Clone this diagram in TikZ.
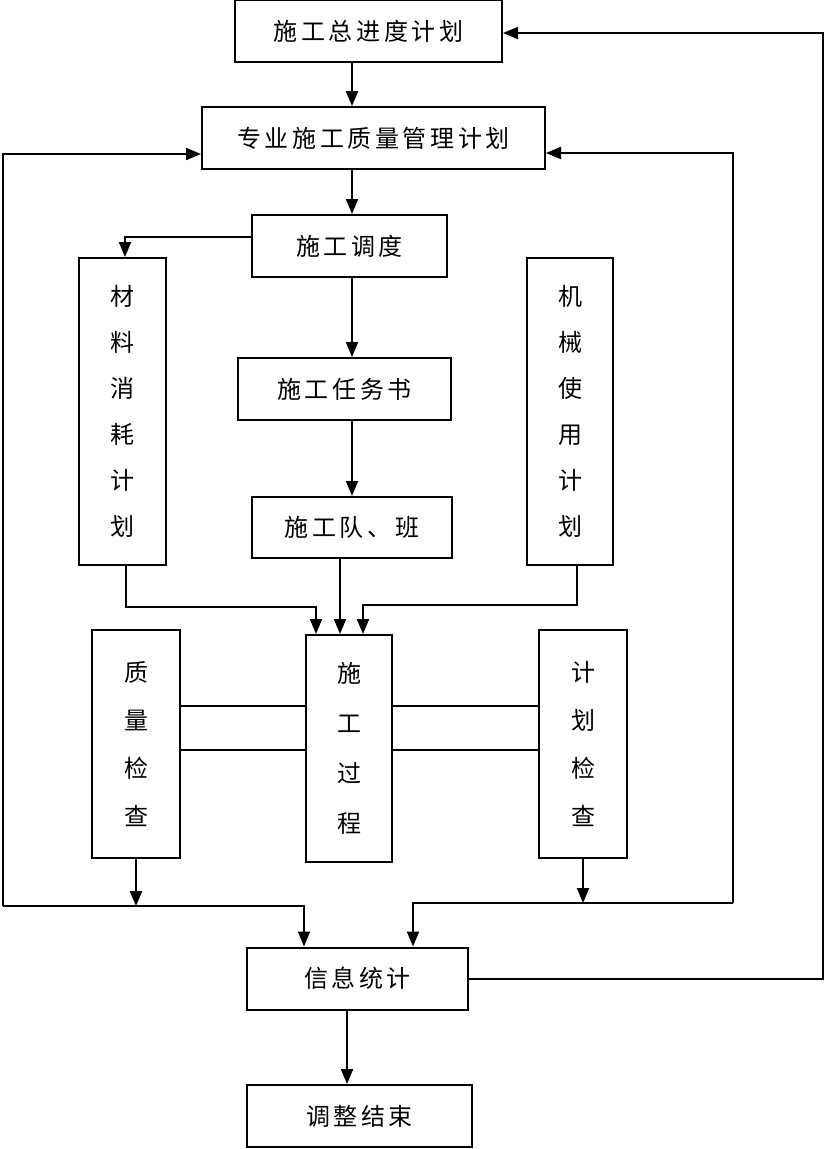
\documentclass[tikz,border=0pt]{standalone}
\usepackage{fontspec}
\newfontfamily\cjk[LetterSpace=15]{Noto Sans CJK SC}
\usetikzlibrary{arrows.meta, positioning}

\begin{document}
\begin{tikzpicture}[x=1pt, y=-1pt,
  box/.style={draw, line width=2pt, inner sep=0pt, font=\cjk\fontsize{24}{28}\selectfont},
  tallbox/.style={box, align=center},
  arr/.style={-{Triangle[length=15pt,width=12pt]}, line width=2pt}]
\useasboundingbox (0,0) rectangle (825,1149);
% boxes
\node[box, minimum width=267pt, minimum height=62pt] (plan) at (368.5,31) {施工总进度计划};
\node[box, minimum width=343pt, minimum height=62pt] (qplan) at (373.5,138) {专业施工质量管理计划};
\node[box, minimum width=195pt, minimum height=62pt] (dispatch) at (349.5,246) {施工调度};
\node[box, minimum width=213pt, minimum height=62pt] (task) at (344.5,389) {施工任务书};
\node[box, minimum width=200pt, minimum height=61pt] (team) at (352,527.5) {施工队、班};
\node[tallbox, minimum width=87pt, minimum height=307pt, font=\cjk\fontsize{24}{46}\selectfont] (material) at (122.5,411.5) {材\\料\\消\\耗\\计\\划};
\node[tallbox, minimum width=86pt, minimum height=307pt, font=\cjk\fontsize{24}{46}\selectfont] (machine) at (570,411.5) {机\\械\\使\\用\\计\\划};
\node[tallbox, minimum width=88pt, minimum height=228pt, font=\cjk\fontsize{24}{48}\selectfont] (qcheck) at (136,744) {质\\量\\检\\查};
\node[tallbox, minimum width=86pt, minimum height=227pt, font=\cjk\fontsize{24}{50}\selectfont] (process) at (349,748.5) {施\\工\\过\\程};
\node[tallbox, minimum width=88pt, minimum height=228pt, font=\cjk\fontsize{24}{48}\selectfont] (pcheck) at (583,744) {计\\划\\检\\查};
\node[box, minimum width=221pt, minimum height=62pt] (stats) at (357.5,978.5) {信息统计};
\node[box, minimum width=225pt, minimum height=62pt] (finish) at (359.5,1116) {调整结束};
% loop corners
\coordinate (lb) at (3,906);
\coordinate (rb) at (733,903);
\coordinate (farR) at (823,0);
% main line
\draw[arr] ([xshift=-16.5pt]plan.south) -- ([xshift=-21.5pt]qplan.north);
\draw[arr] ([xshift=-21.5pt]qplan.south) -- ([xshift=2.5pt]dispatch.north);
\draw[arr] ([xshift=2.5pt]dispatch.south) -- ([xshift=7.5pt]task.north);
\draw[arr] ([xshift=7.5pt]task.south) -- ([xshift=0pt]team.north);
\draw[arr] ([yshift=9pt]dispatch.west) -| ([xshift=2.5pt]material.north);
% into the process
\draw[arr] ([xshift=3.5pt]material.south) -- ++(0,41) -| ([xshift=-33pt]process.north);
\draw[arr] ([xshift=-12pt]team.south) -- ([xshift=-9pt]process.north);
\draw[arr] ([xshift=7pt]machine.south) -- ++(0,39) -| ([xshift=14pt]process.north);
% checks
\path ([yshift=38pt]qcheck.east) coordinate (q1) ([yshift=-6pt]qcheck.east) coordinate (q2);
\draw[line width=2pt] (q1) -- (q1 -| process.west);
\draw[line width=2pt] (q2) -- (q2 -| process.west);
\draw[line width=2pt] (q1 -| process.east) -- (q1 -| pcheck.west);
\draw[line width=2pt] (q2 -| process.east) -- (q2 -| pcheck.west);
\draw[arr] (qcheck.south) -- (qcheck.south |- lb);
\draw[arr] (pcheck.south) -- (pcheck.south |- rb);
% feedback
\draw[arr] (lb) -| ([xshift=-53.5pt]stats.north);
\draw[arr] (lb) |- ([yshift=-16pt]qplan.west);
\draw[arr] (rb) -| ([xshift=55.5pt]stats.north);
\draw[arr] (rb) |- ([yshift=-15pt]qplan.east);
\draw[arr] (stats.east) -- (stats.east -| farR) |- ([yshift=-2pt]plan.east);
\draw[arr] ([xshift=-10.5pt]stats.south) -- ([xshift=-12.5pt]finish.north);
\end{tikzpicture}
\end{document}
